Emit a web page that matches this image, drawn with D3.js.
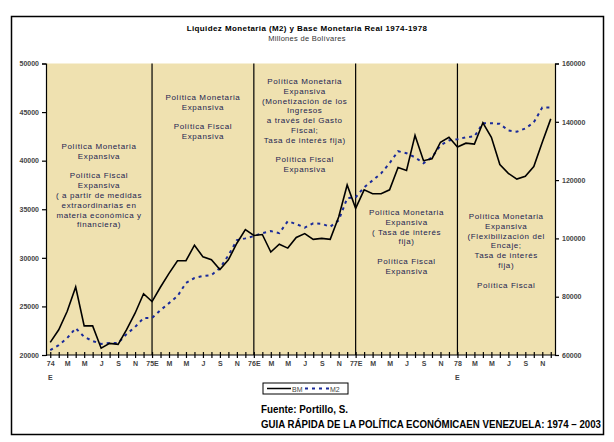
<!DOCTYPE html>
<html><head><meta charset="utf-8">
<script src="https://cdn.jsdelivr.net/npm/d3@7"></script>
<style>body{margin:0;background:#fff}</style>
</head><body>
<div id="chart"></div>
<script>
const width = 614, height = 442;

// monthly labels, Jan 1974 .. Dec 1978
const monthLabels = ["74","M","M","J","S","N","75E","M","M","J","S","N","76E","M","M","J","S","N","77E","M","M","J","S","N","78","M","M","J","S","N"];
const bm = [21300,22600,24500,27000,23000,23000,20700,21200,21100,22600,24300,26300,
            25500,27000,28400,29700,29700,31300,30100,29800,28800,29800,31500,32900,
            32300,32400,30600,31400,31000,32100,32500,31900,32000,31900,34200,37500,
            35100,37000,36600,36600,37000,39300,39000,42600,40000,40200,41900,42400,
            41400,41800,41700,43900,42400,39600,38700,38100,38400,39400,41900,44300];
const m2 = [61700,63400,65800,69200,66200,64800,63800,64100,64100,67200,69600,72700,
            72700,75400,77800,80200,84700,86400,87100,87400,89800,94200,99400,100000,
            100800,101800,102500,101800,105900,104900,103700,105200,105000,104000,106200,113800,
            114100,117500,119900,122300,125800,129900,129200,127800,125800,127800,131900,133600,
            134000,134700,135000,139500,139500,139300,137000,136600,137700,139800,144900,144900];
const leftTicks = [20000,25000,30000,35000,40000,45000,50000];
const rightTicks = [60000,80000,100000,120000,140000,160000];
const periodNotes = [
  ["Política Monetaria","Expansiva","","Política Fiscal","Expansiva","( a partir de medidas","extraordinarias en","materia económica y","financiera)"],
  ["Política Monetaria","Expansiva","","Política Fiscal","Expansiva"],
  ["Política Monetaria","Expansiva","(Monetización de los","Ingresos","a través del Gasto","Fiscal;","Tasa de interés fija)","","Política Fiscal","Expansiva"],
  ["Política Monetaria","Expansiva","( Tasa de interés","fija)","","Política Fiscal","Expansiva"],
  ["Política Monetaria","Expansiva","(Flexibilización del","Encaje;","Tasa de interés","fija)","","Política Fiscal"]
];
const noteTop = [149, 100, 84, 215, 219];

const svg = d3.select("#chart").append("svg").attr("width", width).attr("height", height);
svg.append("rect").attr("x", 11.5).attr("y", 16.5).attr("width", 592).attr("height", 418)
  .attr("fill", "#fff").attr("stroke", "#000").attr("stroke-width", 1.5);

const x0 = 46, x1 = 555, y0 = 355, y1 = 63.5;
const idx = d3.range(60);
const x = d3.scalePoint().domain(idx).range([x0, x1]).padding(0.5);
const yL = d3.scaleLinear().domain([20000, 50000]).range([y0, y1]);
const yR = d3.scaleLinear().domain([60000, 160000]).range([y0, y1]);

svg.append("rect").attr("x", x0).attr("y", y1).attr("width", x1 - x0).attr("height", y0 - y1).attr("fill", "#efe1b0");

// period separators
[12, 24, 36, 48].forEach(i => {
  svg.append("line").attr("x1", x(i)).attr("x2", x(i)).attr("y1", y1).attr("y2", y0)
    .attr("stroke", "#000").attr("stroke-width", 1.2);
});

// notes
const bounds = [x0, x(12), x(24), x(36), x(48), x1];
periodNotes.forEach((lines, k) => {
  const cx = (bounds[k] + bounds[k + 1]) / 2;
  const t = svg.append("text").attr("text-anchor", "middle")
    .style("font", "8px 'Liberation Sans', Arial, sans-serif").style("letter-spacing", "0.6px").attr("fill", "#1c2450");
  lines.forEach((s, j) => t.append("tspan").attr("x", cx).attr("y", noteTop[k] + j * 9.8).text(s));
});

// axes
const axFont = "bold 7px 'Liberation Sans', Arial, sans-serif";
const gl = svg.append("g").attr("transform", `translate(${x0},0)`)
  .call(d3.axisLeft(yL).tickValues(leftTicks).tickSize(4).tickFormat(d3.format("d")));
const gr = svg.append("g").attr("transform", `translate(${x1},0)`)
  .call(d3.axisRight(yR).tickValues(rightTicks).tickSize(4).tickFormat(d3.format("d")));
const gb = svg.append("g").attr("transform", `translate(0,${y0})`)
  .call(d3.axisBottom(x).tickSizeInner(3).tickSizeOuter(0).tickFormat(i => i % 2 === 0 ? monthLabels[i / 2] : ""));
gb.selectAll(".tick line").attr("y1", -3);
[gl, gr, gb].forEach(g => {
  g.selectAll("path,line").attr("stroke", "#000").attr("stroke-width", 1.2);
  g.selectAll("text").style("font", axFont).attr("fill", "#444");
});
gb.select(".domain").attr("d", `M${x0},0H${x1}`);
[0, 48].forEach(i => svg.append("text").attr("x", x(i)).attr("y", 380).attr("text-anchor", "middle")
  .style("font", axFont).attr("fill", "#444").text("E"));

// lines
svg.append("path").datum(m2).attr("fill", "none").attr("stroke", "#1a2a9a").attr("stroke-width", 2)
  .attr("stroke-dasharray", "3,4")
  .attr("d", d3.line().x((d, i) => x(i)).y(d => yR(d)));
svg.append("path").datum(bm).attr("fill", "none").attr("stroke", "#000").attr("stroke-width", 1.6)
  .attr("d", d3.line().x((d, i) => x(i)).y(d => yL(d)));

// title
svg.append("text").attr("x", 307).attr("y", 31).attr("text-anchor", "middle")
  .style("font", "bold 8px 'Liberation Sans', Arial, sans-serif").style("letter-spacing", "0.4px").text("Liquidez Monetaria (M2) y Base Monetaria Real 1974-1978");
svg.append("text").attr("x", 307).attr("y", 41).attr("text-anchor", "middle")
  .style("font", "7.5px 'Liberation Sans', Arial, sans-serif").style("letter-spacing", "0.3px").attr("fill", "#333").text("Millones de Bolívares");

// legend
const lg = svg.append("g").attr("transform", "translate(263,383)");
lg.append("rect").attr("width", 85).attr("height", 11).attr("fill", "#fff").attr("stroke", "#000");
lg.append("line").attr("x1", 4).attr("x2", 28).attr("y1", 5.5).attr("y2", 5.5).attr("stroke", "#000").attr("stroke-width", 1.5);
lg.append("text").attr("x", 29).attr("y", 8.5).style("font", "7px 'Liberation Sans', Arial, sans-serif").attr("fill", "#444").text("BM");
lg.append("line").attr("x1", 42).attr("x2", 66).attr("y1", 5.5).attr("y2", 5.5).attr("stroke", "#1a2a9a").attr("stroke-width", 2).attr("stroke-dasharray", "3,4");
lg.append("text").attr("x", 67).attr("y", 8.5).style("font", "7px 'Liberation Sans', Arial, sans-serif").attr("fill", "#444").text("M2");

// source
const srcFont = "bold 10px 'Liberation Sans Narrow', 'Liberation Sans', sans-serif";
svg.append("text").attr("x", 261).attr("y", 413).style("font", srcFont)
  .attr("textLength", 87).attr("lengthAdjust", "spacingAndGlyphs").text("Fuente: Portillo, S.");
svg.append("text").attr("x", 261).attr("y", 428).style("font", srcFont)
  .attr("textLength", 340).attr("lengthAdjust", "spacingAndGlyphs").text("GUIA RÁPIDA DE LA POLÍTICA ECONÓMICAEN VENEZUELA: 1974 – 2003");
</script>
</body></html>
